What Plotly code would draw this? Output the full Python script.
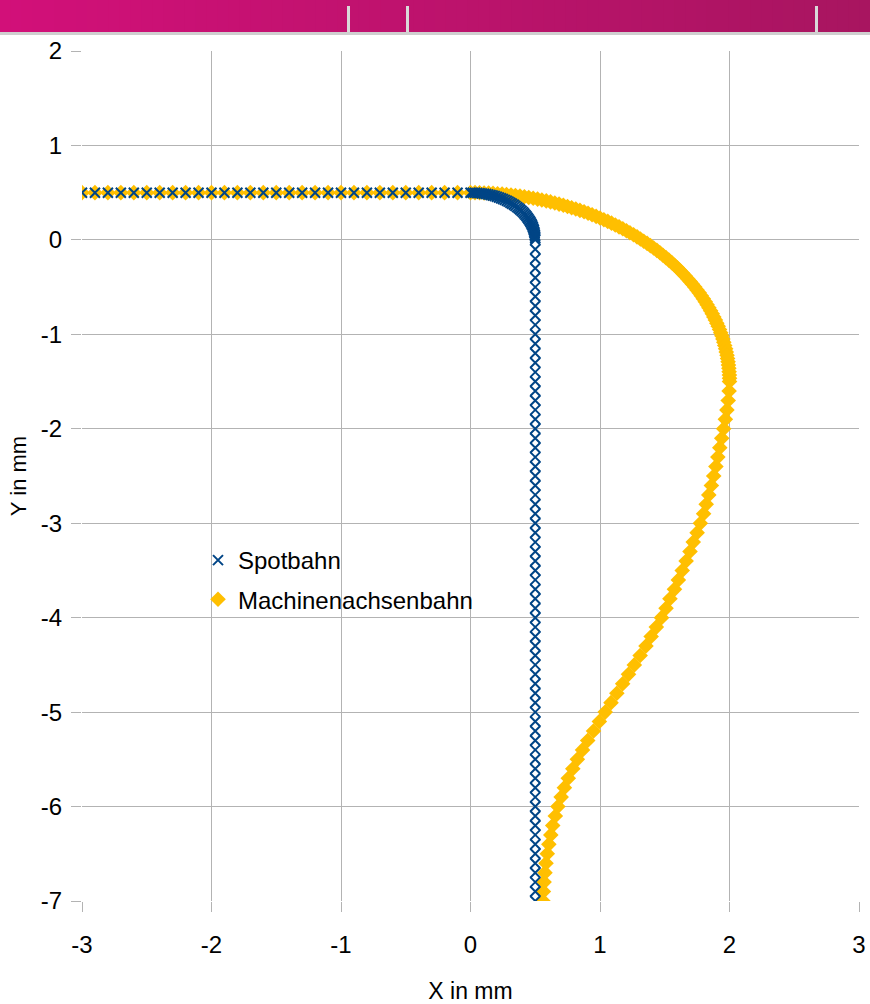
import plotly.graph_objects as go

# ---------------- data ----------------
# Spotbahn: straight approach, small quarter arc, vertical descent
spot_line_x = [-3.0, -2.9, -2.8, -2.7, -2.6, -2.5, -2.4, -2.3, -2.2, -2.1,
               -2.0, -1.9, -1.8, -1.7, -1.6, -1.5, -1.4, -1.3, -1.2, -1.1,
               -1.0, -0.9, -0.8, -0.7, -0.6, -0.5, -0.4, -0.3, -0.2, -0.1]
spot_line_y = [0.5] * 30

spot_arc_x = [0, .017, .035, .052, .070, .087, .104, .121, .138, .155, .171,
              .187, .203, .219, .235, .25, .265, .280, .294, .308, .321,
              .335, .347, .360, .372, .383, .394, .405, .415, .424, .433,
              .441, .449, .457, .464, .470, .476, .481, .485, .489, .492,
              .495, .497, .499, .500, .5]
spot_arc_y = [.5, .500, .499, .497, .495, .492, .489, .485, .481, .476, .470,
              .464, .457, .449, .441, .433, .424, .415, .405, .394, .383,
              .372, .360, .347, .335, .321, .308, .294, .280, .265, .25,
              .235, .219, .203, .187, .171, .155, .138, .121, .104, .087,
              .070, .052, .035, .017, 0]

spot_down_y = [-0.1, -0.2, -0.3, -0.4, -0.5, -0.6, -0.7, -0.8, -0.9, -1.0,
               -1.1, -1.2, -1.3, -1.4, -1.5, -1.6, -1.7, -1.8, -1.9, -2.0,
               -2.1, -2.2, -2.3, -2.4, -2.5, -2.6, -2.7, -2.8, -2.9, -3.0,
               -3.1, -3.2, -3.3, -3.4, -3.5, -3.6, -3.7, -3.8, -3.9, -4.0,
               -4.1, -4.2, -4.3, -4.4, -4.5, -4.6, -4.7, -4.8, -4.9, -5.0,
               -5.1, -5.2, -5.3, -5.4, -5.5, -5.6, -5.7, -5.8, -5.9, -6.0,
               -6.1, -6.2, -6.3, -6.4, -6.5, -6.6, -6.7, -6.8, -6.9, -7.0]
spot_down_x = [0.5] * 70

# Machinenachsenbahn: straight approach, large arc, S-shaped descent
mach_line_x = list(spot_line_x)
mach_line_y = [0.5] * 30

mach_arc_x = [0, .035, .070, .105, .140, .174, .209, .244, .278, .313, .347,
              .382, .416, .450, .484, .518, .551, .585, .618, .651, .684,
              .717, .749, .781, .813, .845, .877, .908, .939, .970, 1.0,
              1.030, 1.060, 1.089, 1.118, 1.147, 1.176, 1.204, 1.231, 1.259, 1.286,
              1.312, 1.338, 1.364, 1.389, 1.414, 1.439, 1.463, 1.486, 1.509, 1.532,
              1.554, 1.576, 1.597, 1.618, 1.638, 1.658, 1.677, 1.696, 1.714, 1.732,
              1.749, 1.766, 1.782, 1.798, 1.813, 1.827, 1.841, 1.854, 1.867, 1.879,
              1.891, 1.902, 1.913, 1.923, 1.932, 1.941, 1.949, 1.956, 1.963, 1.970,
              1.975, 1.981, 1.985, 1.989, 1.992, 1.995, 1.997, 1.999, 2.000, 2.0]
mach_arc_y = [.5, .5, .499, .497, .495, .492, .489, .485, .481, .475, .470,
              .463, .456, .449, .441, .432, .423, .413, .402, .391, .379,
              .367, .354, .341, .327, .313, .298, .282, .266, .249, .232,
              .214, .196, .177, .158, .138, .118, .097, .076, .054, .032,
              .009, -.014, -.037, -.061, -.086, -.111, -.136, -.162, -.188, -.214,
              -.241, -.269, -.296, -.324, -.353, -.382, -.411, -.440, -.470, -.5,
              -.530, -.561, -.592, -.623, -.655, -.687, -.719, -.751, -.783, -.816,
              -.849, -.882, -.915, -.949, -.982, -1.016, -1.050, -1.084, -1.118, -1.153,
              -1.187, -1.222, -1.256, -1.291, -1.326, -1.360, -1.395, -1.430, -1.465, -1.5]

mach_s_y = [-1.6, -1.7, -1.8, -1.9, -2.0, -2.1, -2.2, -2.3, -2.4, -2.5,
            -2.6, -2.7, -2.8, -2.9, -3.0, -3.1, -3.2, -3.3, -3.4, -3.5,
            -3.6, -3.7, -3.8, -3.9, -4.0, -4.1, -4.2, -4.3, -4.4, -4.5,
            -4.6, -4.7, -4.8, -4.9, -5.0, -5.1, -5.2, -5.3, -5.4, -5.5,
            -5.6, -5.7, -5.8, -5.9, -6.0, -6.1, -6.2, -6.3, -6.4, -6.5,
            -6.6, -6.7, -6.8, -6.9, -7.0]
mach_s_x = [1.997, 1.99, 1.98, 1.968, 1.955, 1.94, 1.925, 1.91, 1.895, 1.878,
            1.86, 1.84, 1.82, 1.80, 1.775, 1.75, 1.72, 1.695, 1.665, 1.635,
            1.605, 1.575, 1.54, 1.51, 1.475, 1.435, 1.395, 1.355, 1.31, 1.265,
            1.22, 1.175, 1.13, 1.085, 1.04, 0.995, 0.95, 0.905, 0.865, 0.825,
            0.79, 0.755, 0.725, 0.70, 0.675, 0.655, 0.635, 0.62, 0.605, 0.593,
            0.583, 0.575, 0.568, 0.563, 0.56]

x_ticks = [-3, -2, -1, 0, 1, 2, 3]
y_ticks = [2, 1, 0, -1, -2, -3, -4, -5, -6, -7]

series_names = ["Spotbahn", "Machinenachsenbahn"]
x_title = "X in mm"
y_title = "Y in mm"

spot_x = spot_line_x + spot_arc_x + spot_down_x
spot_y = spot_line_y + spot_arc_y + spot_down_y
mach_x = mach_line_x + mach_arc_x + mach_s_x
mach_y = mach_line_y + mach_arc_y + mach_s_y

# ---------------- figure ----------------
W, H = 870, 1004
ML, MR, MT, MB = 82, 11, 51, 103
FONT = "Liberation Sans, Arial, sans-serif"
BLUE = "#004586"
ORANGE = "#ffbf00"
GRID = "#b3b3b3"

fig = go.Figure()
fig.add_trace(go.Scatter(
    x=spot_x, y=spot_y, mode="markers", name=series_names[0],
    legendgroup="a", zorder=2,
    marker=dict(symbol="x-thin-open", size=10, color=BLUE,
                line=dict(width=2, color=BLUE))))
fig.add_trace(go.Scatter(
    x=mach_x, y=mach_y, mode="markers", name=series_names[1],
    legendgroup="b", zorder=1,
    marker=dict(symbol="diamond", size=12, color=ORANGE, line=dict(width=0))))


def px2paper(px, py):
    return (px - ML) / (W - ML - MR), (H - MB - py) / (H - MT - MB)


shapes = []
# magenta header band (gradient from overlapping strips, no seams)
n = 80
c0 = (210, 16, 121)
c1 = (168, 21, 96)
_, ytop = px2paper(0, 0)
_, ybot = px2paper(0, 32)
xend, _ = px2paper(W, 0)
for i in range(n):
    t = i / (n - 1)
    col = "rgb(%d,%d,%d)" % tuple(round(a + (b - a) * t) for a, b in zip(c0, c1))
    x0, _ = px2paper(W * i / n, 0)
    shapes.append(dict(type="rect", xref="paper", yref="paper", x0=x0, x1=xend,
                       y0=ybot, y1=ytop, fillcolor=col, line=dict(width=0), layer="above"))
gx0, gy0 = px2paper(0, 32)
gx1, gy1 = px2paper(W, 35)
shapes.append(dict(type="rect", xref="paper", yref="paper", x0=gx0, x1=gx1,
                   y0=gy1, y1=gy0, fillcolor="#cfcfcf", line=dict(width=0), layer="above"))
for mx in (348.5, 407.5, 816.5):
    ax0, ay0 = px2paper(mx - 1.5, 6)
    ax1, ay1 = px2paper(mx + 1.5, 32)
    shapes.append(dict(type="rect", xref="paper", yref="paper", x0=ax0, x1=ax1,
                       y0=ay1, y1=ay0, fillcolor="#d9d9d9", line=dict(width=0), layer="above"))

lx, ly = px2paper(198, 538)

fig.update_layout(
    width=W, height=H, autosize=False,
    margin=dict(l=ML, r=MR, t=MT, b=MB, pad=0, autoexpand=False),
    paper_bgcolor="white", plot_bgcolor="white",
    font=dict(family=FONT, size=24, color="black"),
    showlegend=True,
    legend=dict(x=lx, y=ly, xanchor="left", yanchor="top",
                bgcolor="rgba(0,0,0,0)", font=dict(size=24, color="black"),
                traceorder="grouped", tracegroupgap=5,
                itemwidth=30),
    shapes=shapes,
    xaxis=dict(range=[-3, 3], tickvals=x_ticks, ticktext=[str(v) for v in x_ticks],
               automargin=False,
               showgrid=True, gridcolor=GRID, gridwidth=1, zeroline=False,
               showline=True, linecolor=GRID, linewidth=1, mirror=True,
               ticks="outside", ticklen=10, tickcolor=GRID, tickwidth=1,
               ticklabelstandoff=12,
               tickfont=dict(size=24, family=FONT),
               title=dict(text=x_title, font=dict(size=23, family=FONT), standoff=40)),
    yaxis=dict(range=[-7, 2], tickvals=y_ticks, ticktext=[str(v) for v in y_ticks],
               automargin=False,
               showgrid=True, gridcolor=GRID, gridwidth=1, zeroline=False,
               showline=True, linecolor=GRID, linewidth=1, mirror=True,
               ticks="outside", ticklen=10, tickcolor=GRID, tickwidth=1,
               ticklabelstandoff=4,
               tickfont=dict(size=24, family=FONT),
               title=dict(text=y_title, font=dict(size=22, family=FONT), standoff=8)),
)

post = (
    "var s=document.createElement('style');"
    "s.textContent='html,body{margin:0;padding:0;overflow:hidden;}';"
    "document.head.appendChild(s);"
)
fig.write_html("out.html",
               config={"responsive": False, "displayModeBar": False},
               post_script=post)
